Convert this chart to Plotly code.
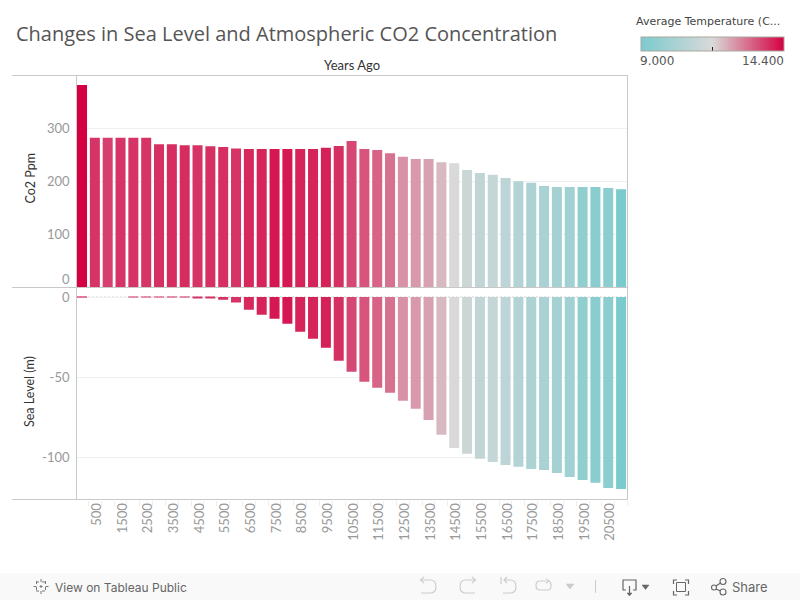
import plotly.graph_objects as go

years = [str(y) for y in range(0, 21500, 500)]
co2_ppm = [382, 282, 282, 282, 282, 282, 270, 270, 268, 268, 266, 264.5, 262, 261, 261, 261, 261, 261, 261, 263,
           266.5, 276, 261, 259, 253, 246, 242, 242, 236, 234, 221, 215.5, 212, 206, 200, 197, 191, 189, 189, 189, 189, 187, 185]
sea_level = [-0.3, 0, 0, 0, -0.3, -0.3, -0.3, -0.3, -0.3, -1, -1, -1.7, -3.5, -8, -11, -13.5, -16.7, -21.7, -26, -31.7,
             -39.8, -46.7, -52.9, -56.7, -59.8, -64.8, -69.8, -76.7, -86, -94.2, -97.9, -101, -103, -104.8, -106, -107.3, -108, -109.8, -112.3, -114.2, -116, -119.2, -119.8]
avg_temp = [14.4, 13.75, 13.6, 13.75, 13.75, 13.75, 13.8, 13.85, 13.85, 13.75, 13.8, 13.8, 13.75, 13.9, 13.95, 14.1, 14.1, 13.95, 13.95, 14.0,
            13.8, 13.5, 13.35, 13.15, 13.0, 12.6, 12.5, 12.4, 12.1, 11.7, 11.3, 11.0, 11.1, 10.9, 10.6, 10.4, 10.3, 10.2, 10.1, 9.6, 9.4, 9.5, 9.0]
tick_text = [y if i % 2 == 1 else "" for i, y in enumerate(years)]
sea_ticks = [-100, -50, 0]
sea_tick_text = ["-100", "-50", "0"]
co2_ticks = [100, 200, 300]
color_stops = [[0, "#7bcbce"], [0.5, "#d9d9d9"], [1, "#d50041"]]

W, H = 800, 600
TICK = "#999999"
LABEL = "#444444"
FONT = "Lato"


def px(x):
    return x / W


def py(y):
    return 1 - y / H


def path(d):
    out = []
    for t in d:
        if isinstance(t, str):
            out.append(t)
        else:
            out.append(f"{px(t[0]):.5f},{py(t[1]):.5f}")
    return " ".join(out)


def line(x0, y0, x1, y1, color, width=1, dash="solid", layer="above"):
    return dict(type="line", xref="paper", yref="paper", x0=px(x0), y0=py(y0), x1=px(x1), y1=py(y1),
                line=dict(color=color, width=width, dash=dash), layer=layer)


def stroke(d, color, width=1.2, fill=None):
    return dict(type="path", xref="paper", yref="paper", path=path(d),
                line=dict(color=color, width=width), fillcolor=fill or "rgba(0,0,0,0)", layer="above")


def text(x, y, s, size=12, color=LABEL, anchor="left", angle=0, family=FONT):
    return dict(xref="paper", yref="paper", x=px(x), y=py(y), text=s, showarrow=False, xanchor=anchor, yanchor="middle",
                textangle=angle, borderpad=0, borderwidth=0, font=dict(family=family, size=size, color=color))


fig = go.Figure()
fig.add_trace(go.Bar(x=years, y=co2_ppm, xaxis="x", yaxis="y", name="Co2 Ppm",
                     marker=dict(color=avg_temp, coloraxis="coloraxis", line=dict(width=0))))
fig.add_trace(go.Bar(x=years, y=sea_level, xaxis="x2", yaxis="y2", name="Sea Level (m)",
                     marker=dict(color=avg_temp, coloraxis="coloraxis", line=dict(width=0))))

GRID = "#f0f0f0"
BORDER = "#c8c8c8"
LIGHT = "#cccccc"
DARK = "#666666"

shapes = [
    dict(type="rect", xref="paper", yref="paper", x0=0, x1=1, y0=py(600), y1=py(573), fillcolor="#f9f9f9",
         line=dict(width=0), layer="below"),
    dict(type="line", xref="x2 domain", yref="y2", x0=0, x1=1, y0=0, y1=0,
         line=dict(color="#999999", width=1, dash="1px,3px"), layer="below"),
    line(12, 75.5, 627.5, 75.5, BORDER),
    line(12, 287.5, 627.5, 287.5, BORDER),
    line(12, 499.5, 627.5, 499.5, BORDER),
    line(76.5, 75.5, 76.5, 499.5, BORDER),
    line(627.5, 75.5, 627.5, 499.5, BORDER),
    # undo
    stroke(["M", (421, 580), "L", (430, 580), "Q", (436, 580), (436, 586.5), "Q", (436, 593), (430, 593), "L", (421, 593)], LIGHT),
    stroke(["M", (424, 577), "L", (420.5, 580), "L", (424, 583)], LIGHT),
    # redo
    stroke(["M", (475, 580), "L", (466, 580), "Q", (460, 580), (460, 586.5), "Q", (460, 593), (466, 593), "L", (475, 593)], LIGHT),
    stroke(["M", (472, 577), "L", (475.5, 580), "L", (472, 583)], LIGHT),
    # revert
    stroke(["M", (504, 580), "L", (510, 580), "Q", (516, 580), (516, 586.5), "Q", (516, 593), (510, 593), "L", (503, 593)], LIGHT),
    stroke(["M", (507, 577), "L", (504, 580), "L", (507, 583)], LIGHT),
    line(501, 577, 501, 584, LIGHT, 1.2),
    # refresh
    stroke(["M", (546, 581), "L", (540, 581), "Q", (536, 581), (536, 585.5), "Q", (536, 590), (540, 590), "L", (548, 590), "Q", (551, 590), (551, 585.5), "Q", (551, 581), (548, 581)], LIGHT),
    stroke(["M", (546, 579), "L", (549, 581), "L", (546, 583)], LIGHT),
    stroke(["M", (566, 584), "L", (574, 584), "L", (570, 589), "Z"], LIGHT, 0.5, LIGHT),
    line(595.5, 580, 595.5, 593, LIGHT),
    # download
    stroke(["M", (626, 590), "L", (623, 590), "L", (623, 580), "L", (636, 580), "L", (636, 590), "L", (633, 590)], DARK),
    line(629.5, 586, 629.5, 595, DARK, 1.2),
    stroke(["M", (627, 593), "L", (632, 593), "L", (629.5, 596), "Z"], DARK, 0.5, DARK),
    stroke(["M", (642, 585), "L", (649, 585), "L", (645.5, 589.5), "Z"], DARK, 0.5, DARK),
    # fullscreen
    stroke(["M", (673.5, 584), "L", (673.5, 580), "L", (677, 580)], DARK),
    stroke(["M", (685, 580), "L", (688.5, 580), "L", (688.5, 584)], DARK),
    stroke(["M", (673.5, 591), "L", (673.5, 595), "L", (677, 595)], DARK),
    stroke(["M", (685, 595), "L", (688.5, 595), "L", (688.5, 591)], DARK),
    dict(type="rect", xref="paper", yref="paper", x0=px(676.5), x1=px(685.5), y0=py(591.5), y1=py(582.5),
         line=dict(color=DARK, width=1), layer="above"),
    # share
    dict(type="circle", xref="paper", yref="paper", x0=px(711.5), x1=px(716.5), y0=py(590), y1=py(585), line=dict(color=DARK, width=1.1)),
    dict(type="circle", xref="paper", yref="paper", x0=px(720), x1=px(726), y0=py(584.5), y1=py(578.5), line=dict(color=DARK, width=1.1)),
    dict(type="circle", xref="paper", yref="paper", x0=px(720), x1=px(726), y0=py(595), y1=py(589), line=dict(color=DARK, width=1.1)),
    line(716, 586, 720.5, 583, DARK, 1.1),
    line(716, 589, 720.5, 591, DARK, 1.1),
    # tableau mark
    line(41, 579, 41, 594, "#777777", 1, "dot"),
    line(33.5, 586.5, 48.5, 586.5, "#777777", 1, "dot"),
    line(36, 582, 46, 582, "#777777", 1, "dot"),
    line(36, 591, 46, 591, "#777777", 1, "dot"),
    line(36.5, 581, 36.5, 592, "#777777", 1, "dot"),
    line(45.5, 581, 45.5, 592, "#777777", 1, "dot"),
]

annotations = [
    text(16, 33, "Changes in Sea Level and Atmospheric CO2 Concentration", 20, "#555555", family="Open Sans"),
    text(351.5, 65, "Years Ago", 13, "#333333", "center"),
    text(29.5, 179, "Co2 Ppm", 12.5, "#333333", "center", -90),
    text(29.5, 391.5, "Sea Level (m)", 12.5, "#333333", "center", -90),
    text(69.5, 279, "0", 13, TICK, "right"),
    text(636, 22, "Average Temperature (C...", 11, "#444444", family="DejaVu Sans"),
    text(640, 61, "9.000", 12, "#555555", family="DejaVu Sans"),
    text(783.5, 61, "14.400", 12, "#555555", "right", family="DejaVu Sans"),
    text(55, 587, "View on Tableau Public", 12, DARK, family="Inter"),
    text(732, 587, "Share", 13, DARK, family="Inter"),
]

fig.update_layout(
    width=W, height=H, margin=dict(l=0, r=0, t=0, b=0, autoexpand=False),
    paper_bgcolor="white", plot_bgcolor="white", showlegend=False, bargap=0.22,
    font=dict(family=FONT, color=TICK), shapes=shapes, annotations=annotations,
    xaxis=dict(domain=[px(76.5), px(627.5)], anchor="y", type="category", categoryorder="array", categoryarray=years,
               range=[-0.43, 42.5], showticklabels=False, ticks="", showgrid=False, zeroline=False),
    xaxis2=dict(domain=[px(76.5), px(627.5)], anchor="y2", type="category", categoryorder="array", categoryarray=years,
                range=[-0.43, 42.5], tickmode="array", tickvals=years, ticktext=tick_text, tickangle=-90,
                tickson="boundaries", ticks="outside", ticklen=5, tickcolor="#eeeeee",
                tickfont=dict(size=13, color=TICK, family=FONT), ticklabelshift=2,
                showgrid=False, zeroline=False),
    yaxis=dict(domain=[py(287), py(75.5)], anchor="x", range=[0, 399.8], tickvals=co2_ticks,
               ticks="", tickfont=dict(size=13, color=TICK), gridcolor=GRID, zeroline=False, ticklabelstandoff=6),
    yaxis2=dict(domain=[py(499.5), py(287.5)], anchor="x2", range=[-126.4, 5.94], tickvals=sea_ticks, ticktext=sea_tick_text,
                ticks="", tickfont=dict(size=13, color=TICK), gridcolor=GRID, zeroline=False, ticklabelstandoff=6),
    coloraxis=dict(cmin=9, cmax=14.4, colorscale=color_stops,
                   colorbar=dict(orientation="h", x=px(640.5), xanchor="left", y=py(37), yanchor="top",
                                 lenmode="pixels", len=143, thicknessmode="pixels", thickness=14, xpad=0, ypad=0,
                                 outlinecolor="#aaa79e", outlinewidth=1, borderwidth=0,
                                 tickmode="array", tickvals=[11.7], ticktext=[""], ticks="inside", ticklen=4,
                                 tickcolor="#222222", tickwidth=1, showticklabels=False)),
)

fig.write_html("out.html", config=dict(displayModeBar=False), post_script="document.body.style.margin='0';")
